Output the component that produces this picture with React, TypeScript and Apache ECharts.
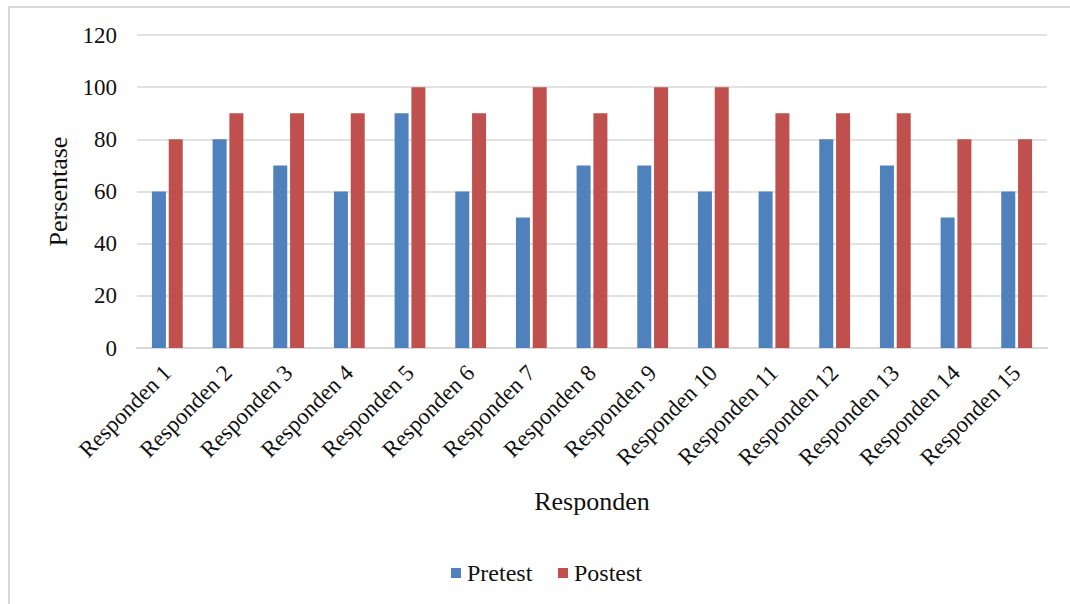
import React, { useEffect, useRef } from "react";
import * as echarts from "echarts";

const categories = [
  "Responden 1", "Responden 2", "Responden 3", "Responden 4", "Responden 5",
  "Responden 6", "Responden 7", "Responden 8", "Responden 9", "Responden 10",
  "Responden 11", "Responden 12", "Responden 13", "Responden 14", "Responden 15",
];
const pretest = [60, 80, 70, 60, 90, 60, 50, 70, 70, 60, 60, 80, 70, 50, 60];
const postest = [80, 90, 90, 90, 100, 90, 100, 90, 100, 100, 90, 90, 90, 80, 80];
const seriesNames = ["Pretest", "Postest"];
const seriesColors = ["#4f81bd", "#c0504d"];

const FONT = "Liberation Serif";
const legendX = [451, 558];

export default function App() {
  const ref = useRef<HTMLDivElement>(null);
  useEffect(() => {
    if (!ref.current) return;
    const chart = echarts.init(ref.current, undefined, { renderer: "svg" });
    const legendGraphics = seriesNames.map((n, i) => ({
      type: "group",
      x: legendX[i],
      y: 573,
      children: [
        { type: "rect", shape: { x: 0, y: -5, width: 10, height: 10 }, style: { fill: seriesColors[i] } },
        {
          type: "text",
          x: 16,
          y: 0,
          style: {
            text: n,
            fontFamily: FONT,
            fontSize: 24,
            fill: "#111",
            verticalAlign: "middle",
          },
        },
      ],
    }));
    chart.setOption({
      animation: false,
      backgroundColor: "#ffffff",
      textStyle: { fontFamily: FONT, color: "#111" },
      graphic: [
        { type: "line", shape: { x1: 8, y1: 7, x2: 1070, y2: 7 }, style: { stroke: "#d9d9d9", lineWidth: 2 } },
        { type: "line", shape: { x1: 9, y1: 6, x2: 9, y2: 604 }, style: { stroke: "#d9d9d9", lineWidth: 2 } },
        ...legendGraphics,
      ],
      grid: { left: 137, right: 23, top: 35, bottom: 256 },
      legend: { show: false, data: seriesNames },
      xAxis: {
        type: "category",
        data: categories,
        name: "Responden",
        nameLocation: "middle",
        nameGap: 140,
        nameTextStyle: { fontFamily: FONT, fontSize: 26, color: "#111" },
        axisLine: { lineStyle: { color: "#d9d9d9", width: 2 } },
        axisTick: { show: false },
        axisLabel: { rotate: 45, fontFamily: FONT, fontSize: 23, color: "#111", margin: 21, interval: 0 },
      },
      yAxis: {
        type: "value",
        min: 0,
        max: 120,
        interval: 20,
        name: "Persentase",
        nameLocation: "middle",
        nameGap: 66,
        nameTextStyle: { fontFamily: FONT, fontSize: 26, color: "#111" },
        axisLine: { show: false },
        axisTick: { show: false },
        axisLabel: { fontFamily: FONT, fontSize: 23, color: "#111", margin: 20 },
        splitLine: { lineStyle: { color: "#d9d9d9", width: 1.5 } },
      },
      series: [
        {
          name: seriesNames[0],
          type: "bar",
          data: pretest,
          barWidth: 14,
          barGap: "20%",
          itemStyle: { color: seriesColors[0] },
        },
        {
          name: seriesNames[1],
          type: "bar",
          data: postest,
          barWidth: 14,
          itemStyle: { color: seriesColors[1] },
        },
      ],
    });
    return () => chart.dispose();
  }, []);
  return (
    <div
      ref={ref}
      style={{ position: "fixed", left: 0, top: 0, width: 1070, height: 604 }}
    />
  );
}
